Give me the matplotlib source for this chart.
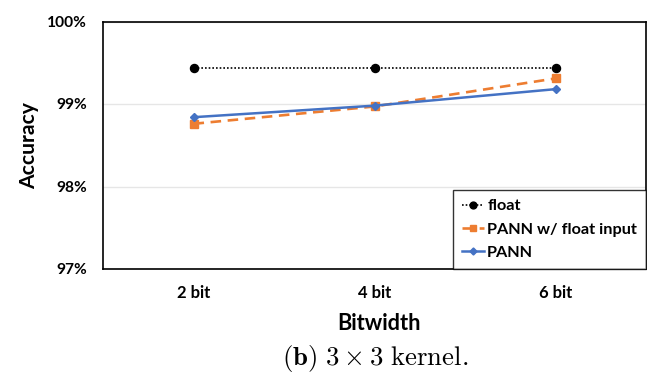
import matplotlib
matplotlib.use("Agg")
import matplotlib.pyplot as plt
from matplotlib.ticker import FuncFormatter

categories = ["2 bit", "4 bit", "6 bit"]
float_acc = [99.435, 99.435, 99.435]
pann_float_input = [98.76, 98.97, 99.31]
pann = [98.84, 98.98, 99.18]
yticks = [97, 98, 99, 100]

plt.rcParams['font.family'] = ['Lato', 'DejaVu Sans']
plt.rcParams['mathtext.fontset'] = 'cm'

W, H = 647, 372
fig = plt.figure(figsize=(6.47, 3.72), dpi=100)
ax_l, ax_r, ax_t, ax_b = 103, 646, 21.5, 269
ax = fig.add_axes([ax_l / W, (H - ax_b) / H, (ax_r - ax_l) / W, (ax_b - ax_t) / H])

x = list(range(len(categories)))
ax.plot(x, float_acc, color='black', linestyle=(0, (1, 1.2)), linewidth=1.2,
        marker='o', markersize=5.8, label='float')
ax.plot(x, pann_float_input, color='#ED7D31', linestyle=(0, (4, 2.5)), linewidth=1.9,
        marker='s', markersize=5.8, label='PANN w/ float input')
ax.plot(x, pann, color='#4472C4', linestyle='-', linewidth=1.8,
        marker='D', markersize=4.2, label='PANN')

ax.set_xlim(-0.5, 2.5)
ax.set_ylim(97, 100)
ax.set_yticks(yticks)
ax.yaxis.set_major_formatter(FuncFormatter(lambda v, p: f"{v:.0f}%"))
ax.set_xticks(x)
ax.set_xticklabels(categories)
ax.tick_params(axis='x', length=0, labelsize=12, pad=11.5)
ax.tick_params(axis='y', length=0, labelsize=11.2, pad=11.5)
for lbl in ax.get_xticklabels() + ax.get_yticklabels():
    lbl.set_fontweight('bold')
ax.grid(axis='y', color='#e6e6e6', linewidth=1)
ax.set_axisbelow(True)
for s in ax.spines.values():
    s.set_color('black')
    s.set_linewidth(1.2)

ax.set_ylabel("Accuracy", fontsize=15.2, fontweight='bold')
ax.set_xlabel("Bitwidth", fontsize=15.7, fontweight='bold')
ax.yaxis.set_label_coords((29 - ax_l) / (ax_r - ax_l), 0.5)
ax.yaxis.label.set_verticalalignment('center')
ax.xaxis.set_label_coords(0.5 + (379 - (ax_l + ax_r) / 2) / (ax_r - ax_l),
                          (ax_b - 324) / (ax_b - ax_t))
ax.xaxis.label.set_verticalalignment('center')

leg = ax.legend(loc='lower right', fontsize=11.7, frameon=True, fancybox=False,
                borderpad=0.55, labelspacing=0.55, handlelength=1.35, handletextpad=0.2,
                borderaxespad=0, markerscale=0.85)
leg.get_frame().set_edgecolor('black')
leg.get_frame().set_linewidth(1.0)
for t in leg.get_texts():
    t.set_fontweight('bold')

fig.text(282 / W, (H - 358) / H,
         r"$\mathbf{(b)}\ 3 \times 3\ \mathrm{kernel.}$",
         ha='left', va='center', fontsize=19.3)

fig.savefig("out.png", dpi=100)
